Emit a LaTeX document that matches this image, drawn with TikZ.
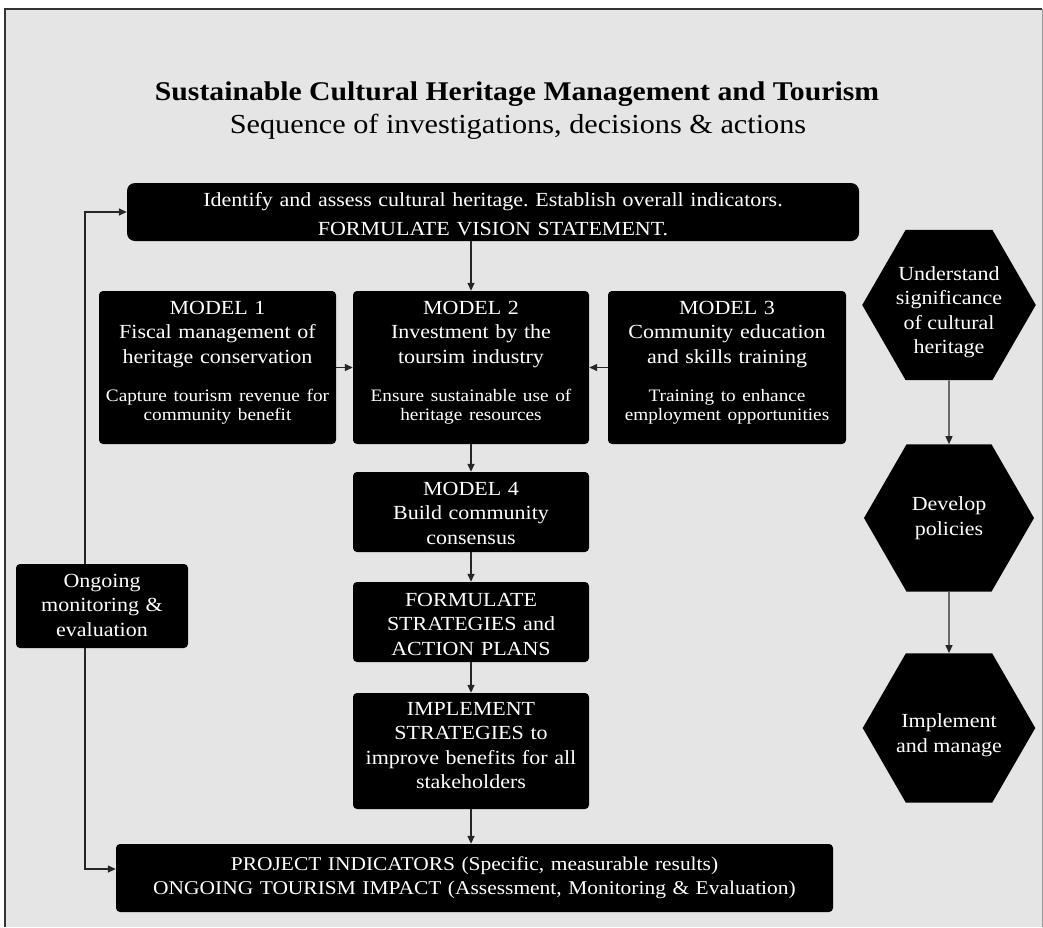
\documentclass[tikz,border=0pt]{standalone}
\usepackage{fontspec}
\setmainfont[FakeStretch=1.1]{Liberation Serif}
\usetikzlibrary{arrows.meta,shapes.geometric}
\definecolor{panel}{HTML}{E5E5E5}
\newcommand\mainsz{\fontsize{20}{24.5}\selectfont}
\newcommand\notesz{\fontsize{17.5}{19.5}\selectfont}
\frenchspacing
\tikzset{
  blk/.style={fill=black, text=white, rounded corners=4pt, align=center, inner sep=0pt, font=\mainsz, anchor=base},
  hexa/.style={regular polygon, regular polygon sides=6, minimum size=170pt, fill=black, text=white, inner sep=0pt, align=center, font=\mainsz},
  arr/.style={-{Triangle[length=8pt,width=7pt]}, line width=1.4pt, draw=black!85},
}
\begin{document}
\begin{tikzpicture}[x=1pt,y=-1pt]
    \useasboundingbox (0,0) rectangle (1043,927);
    \fill[panel] (5,9) rectangle (1043,927);
    \draw[line width=2.5pt, black!80] (5,927) -- (5,9) -- (1042,9);
    \draw[line width=1pt, black!40] (1042,9) -- (1042,927);

    \node[anchor=base, font=\fontsize{27}{30}\selectfont\bfseries] (title) at (517,100) {Sustainable Cultural Heritage Management and Tourism};
    \node[anchor=base, font=\fontsize{27.5}{30}\selectfont] (subtitle) at (518,133) {Sequence of investigations, decisions \& actions};

    \node[blk, rounded corners=8pt, font=\fontsize{20}{29}\selectfont, text width=732pt, text height=23pt, text depth=35pt] (vision) at (493,206) {Identify and assess cultural heritage. Establish overall indicators.\\FORMULATE VISION STATEMENT.};

    \node[blk, text width=237pt, text height=23pt, text depth=130pt] (m1) at (217.5,314) {MODEL 1\\Fiscal management of\\heritage conservation\\[13.5pt]{\notesz Capture tourism revenue for}\\[-5pt]{\notesz community benefit}};
    \node[blk, text width=236pt, text height=23pt, text depth=130pt] (m2) at (471,314) {MODEL 2\\Investment by the\\toursim industry\\[13.5pt]{\notesz Ensure sustainable use of}\\[-5pt]{\notesz heritage resources}};
    \node[blk, text width=238pt, text height=23pt, text depth=130pt] (m3) at (727,314) {MODEL 3\\Community education\\and skills training\\[13.5pt]{\notesz Training to enhance}\\[-5pt]{\notesz employment opportunities}};
    \node[blk, text width=236pt, text height=23pt, text depth=57pt] (m4) at (471,495) {MODEL 4\\Build community\\consensus};
    \node[blk, text width=236pt, text height=24pt, text depth=56pt] (form) at (471,606) {FORMULATE\\STRATEGIES and\\ACTION PLANS};
    \node[blk, text width=236pt, text height=22pt, text depth=94pt] (impl) at (471,715) {IMPLEMENT\\STRATEGIES to\\improve benefits for all\\stakeholders};
    \node[blk, font=\fontsize{19.5}{24}\selectfont, text width=717pt, text height=26pt, text depth=42pt] (ind) at (474.5,870) {PROJECT INDICATORS (Specific, measurable results)\\ONGOING TOURISM IMPACT (Assessment, Monitoring \& Evaluation)};
    \node[blk, text width=172pt, text height=23pt, text depth=61pt] (ongoing) at (102,587) {Ongoing\\monitoring \&\\evaluation};

    \node[hexa, text height=100pt, text depth=3pt] (understand) at (949,305) {Understand\\significance\\of cultural\\heritage};
    \node[hexa] (develop) at (949,518) {Develop\\policies};
    \node[hexa, text height=50pt, text depth=2pt] (manage) at (949,728) {Implement\\and manage};

    \draw[arr] (vision.south -| m2.north) -- (m2.north);
    \draw[arr] (m1.east) -- (m2.west);
    \draw[arr] (m3.west) -- (m2.east);
    \draw[arr] (m2.south) -- (m4.north);
    \draw[arr] (m4.south) -- (form.north);
    \draw[arr] (form.south) -- (impl.north);
    \draw[arr] (impl.south) -- (impl.south |- ind.north);
    \draw[arr] ([xshift=-17pt]ongoing.north) |- (vision.west);
    \draw[arr] ([xshift=-17pt]ongoing.south) |- ([yshift=9pt]ind.west);
    \draw[arr] (understand.south) -- (develop.north);
    \draw[arr] (develop.south) -- (manage.north);
    \end{tikzpicture}
\end{document}
